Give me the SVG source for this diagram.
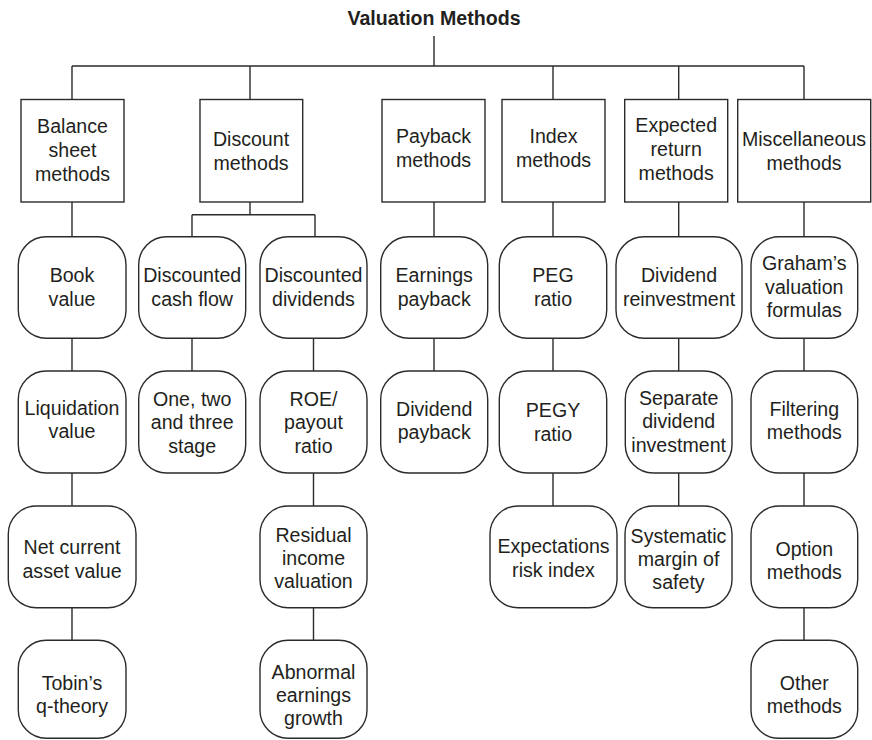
<svg xmlns="http://www.w3.org/2000/svg" width="872" height="740" viewBox="0 0 872 740">
<style>
.bg{fill:#ffffff}
.box{fill:#ffffff;stroke:#2b2b2b;stroke-width:1.4}
.rbox{fill:#ffffff;stroke:#2b2b2b;stroke-width:1.4}
.ln{fill:none;stroke:#2b2b2b;stroke-width:1.4}
text{font-family:"Liberation Sans",Arial,Helvetica,sans-serif;font-size:19.6px;fill:#231f20;text-anchor:middle}
.title{font-weight:bold;font-size:19.6px}
</style>
<rect class="bg" x="0" y="0" width="872" height="740"/>
<g id="connectors">
<path class="ln" d="M434,36 V66 M72,66 H804 M72,66 V99.5 M250,66 V99.5 M553,66 V99.5 M678.7,66 V99.5 M804,66 V99.5"/>
<path class="ln" d="M72,202 V236.7 M72,338.3 V371 M72,473 V506 M72,607.7 V640.3"/>
<path class="ln" d="M250,202 V214.7 M192,214.7 H315 M192,214.7 V236.7 M315,214.7 V236.7 M192,338.3 V371"/>
<path class="ln" d="M313.5,338.3 V371 M313.5,473 V506 M313.5,607.7 V640.3"/>
<path class="ln" d="M434,202 V236.7 M434,338.3 V371"/>
<path class="ln" d="M553,202 V236.7 M553,338.3 V371 M553,473 V506"/>
<path class="ln" d="M678.7,202 V236.7 M678.7,338.3 V371 M678.7,473 V506"/>
<path class="ln" d="M804,202 V236.7 M804,338.3 V371 M804,473 V506 M804,607.7 V640.3"/>
</g>
<g id="root"><text class="title" x="434" y="25">Valuation Methods</text></g>
<g id="balance-sheet"><rect class="box" x="21" y="99.5" width="103" height="102.5"/><text x="72.5"><tspan x="72.5" y="133.3">Balance</tspan><tspan x="72.5" y="157.3">sheet</tspan><tspan x="72.5" y="181">methods</tspan></text></g>
<g id="discount"><rect class="box" x="200" y="99.5" width="102.7" height="102.5"/><text x="251"><tspan x="251" y="146">Discount</tspan><tspan x="251" y="169.5">methods</tspan></text></g>
<g id="payback"><rect class="box" x="382" y="99.5" width="103" height="102.5"/><text x="433.5"><tspan x="433.5" y="143.3">Payback</tspan><tspan x="433.5" y="166.7">methods</tspan></text></g>
<g id="index"><rect class="box" x="502" y="99.5" width="103" height="102.5"/><text x="553.5"><tspan x="553.5" y="143.3">Index</tspan><tspan x="553.5" y="166.7">methods</tspan></text></g>
<g id="expected-return"><rect class="box" x="624.7" y="99.5" width="103" height="102.5"/><text x="676.2"><tspan x="676.2" y="131.7">Expected</tspan><tspan x="676.2" y="155.7">return</tspan><tspan x="676.2" y="180">methods</tspan></text></g>
<g id="miscellaneous"><rect class="box" x="737.7" y="99.5" width="133" height="102.5"/><text x="804"><tspan x="804" y="146">Miscellaneous</tspan><tspan x="804" y="170">methods</tspan></text></g>

<g id="book-value"><rect class="rbox" x="18.3" y="236.7" width="107.7" height="101.6" rx="28"/><text><tspan x="72" y="281.7">Book</tspan><tspan x="72" y="306">value</tspan></text></g>
<g id="discounted-cash-flow"><rect class="rbox" x="138.7" y="236.7" width="107" height="101.6" rx="28"/><text><tspan x="192.2" y="281.7">Discounted</tspan><tspan x="192.2" y="306">cash flow</tspan></text></g>
<g id="discounted-dividends"><rect class="rbox" x="260" y="236.7" width="107" height="101.6" rx="28"/><text><tspan x="313.5" y="281.7">Discounted</tspan><tspan x="313.5" y="306">dividends</tspan></text></g>
<g id="earnings-payback"><rect class="rbox" x="380.7" y="236.7" width="107" height="101.6" rx="28"/><text><tspan x="434.2" y="281.7">Earnings</tspan><tspan x="434.2" y="306">payback</tspan></text></g>
<g id="peg-ratio"><rect class="rbox" x="499.3" y="236.7" width="107.4" height="101.6" rx="28"/><text><tspan x="553" y="281.7">PEG</tspan><tspan x="553" y="306">ratio</tspan></text></g>
<g id="dividend-reinvestment"><rect class="rbox" x="616" y="236.7" width="126" height="101.6" rx="28"/><text><tspan x="679" y="281.7">Dividend</tspan><tspan x="679" y="306">reinvestment</tspan></text></g>
<g id="grahams-formulas"><rect class="rbox" x="751" y="236.7" width="106.7" height="101.6" rx="28"/><text><tspan x="804.3" y="270">Graham’s</tspan><tspan x="804.3" y="294">valuation</tspan><tspan x="804.3" y="317.3">formulas</tspan></text></g>

<g id="liquidation-value"><rect class="rbox" x="18.3" y="371" width="107.7" height="102" rx="28"/><text><tspan x="72" y="415">Liquidation</tspan><tspan x="72" y="438.3">value</tspan></text></g>
<g id="one-two-three-stage"><rect class="rbox" x="138.7" y="371" width="107" height="102" rx="28"/><text><tspan x="192.2" y="406">One, two</tspan><tspan x="192.2" y="429.3">and three</tspan><tspan x="192.2" y="452.7">stage</tspan></text></g>
<g id="roe-payout-ratio"><rect class="rbox" x="260" y="371" width="107" height="102" rx="28"/><text><tspan x="313.5" y="406">ROE/</tspan><tspan x="313.5" y="429.3">payout</tspan><tspan x="313.5" y="452.7">ratio</tspan></text></g>
<g id="dividend-payback"><rect class="rbox" x="380.7" y="371" width="107" height="102" rx="28"/><text><tspan x="434.2" y="415.5">Dividend</tspan><tspan x="434.2" y="439">payback</tspan></text></g>
<g id="pegy-ratio"><rect class="rbox" x="499.3" y="371" width="107.4" height="102" rx="28"/><text><tspan x="553" y="416.5">PEGY</tspan><tspan x="553" y="440.5">ratio</tspan></text></g>
<g id="separate-dividend-investment"><rect class="rbox" x="625.3" y="371" width="106.7" height="102" rx="28"/><text><tspan x="678.7" y="405">Separate</tspan><tspan x="678.7" y="428.3">dividend</tspan><tspan x="678.7" y="451.7">investment</tspan></text></g>
<g id="filtering-methods"><rect class="rbox" x="751" y="371" width="106.7" height="102" rx="28"/><text><tspan x="804.3" y="415.7">Filtering</tspan><tspan x="804.3" y="439">methods</tspan></text></g>

<g id="net-current-asset-value"><rect class="rbox" x="8.3" y="506" width="127.7" height="101.7" rx="28"/><text><tspan x="72" y="554">Net current</tspan><tspan x="72" y="577.7">asset value</tspan></text></g>
<g id="residual-income-valuation"><rect class="rbox" x="260" y="506" width="107" height="101.7" rx="28"/><text><tspan x="313.5" y="541.7">Residual</tspan><tspan x="313.5" y="565">income</tspan><tspan x="313.5" y="588.3">valuation</tspan></text></g>
<g id="expectations-risk-index"><rect class="rbox" x="490" y="506" width="127" height="101.7" rx="28"/><text><tspan x="553.5" y="552.7">Expectations</tspan><tspan x="553.5" y="576.7">risk index</tspan></text></g>
<g id="systematic-margin-of-safety"><rect class="rbox" x="625" y="506" width="107" height="101.7" rx="28"/><text><tspan x="678.5" y="542.7">Systematic</tspan><tspan x="678.5" y="566">margin of</tspan><tspan x="678.5" y="589.3">safety</tspan></text></g>
<g id="option-methods"><rect class="rbox" x="751" y="506" width="106.7" height="101.7" rx="28"/><text><tspan x="804.3" y="556">Option</tspan><tspan x="804.3" y="579.3">methods</tspan></text></g>

<g id="tobins-q-theory"><rect class="rbox" x="18.3" y="640.3" width="107.7" height="98" rx="28"/><text><tspan x="72" y="690">Tobin’s</tspan><tspan x="72" y="713.3">q-theory</tspan></text></g>
<g id="abnormal-earnings-growth"><rect class="rbox" x="260" y="640.3" width="107" height="98" rx="28"/><text><tspan x="313.5" y="679">Abnormal</tspan><tspan x="313.5" y="701.7">earnings</tspan><tspan x="313.5" y="725">growth</tspan></text></g>
<g id="other-methods"><rect class="rbox" x="751" y="640.3" width="106.7" height="98" rx="28"/><text><tspan x="804.3" y="690">Other</tspan><tspan x="804.3" y="713.3">methods</tspan></text></g>
</svg>
